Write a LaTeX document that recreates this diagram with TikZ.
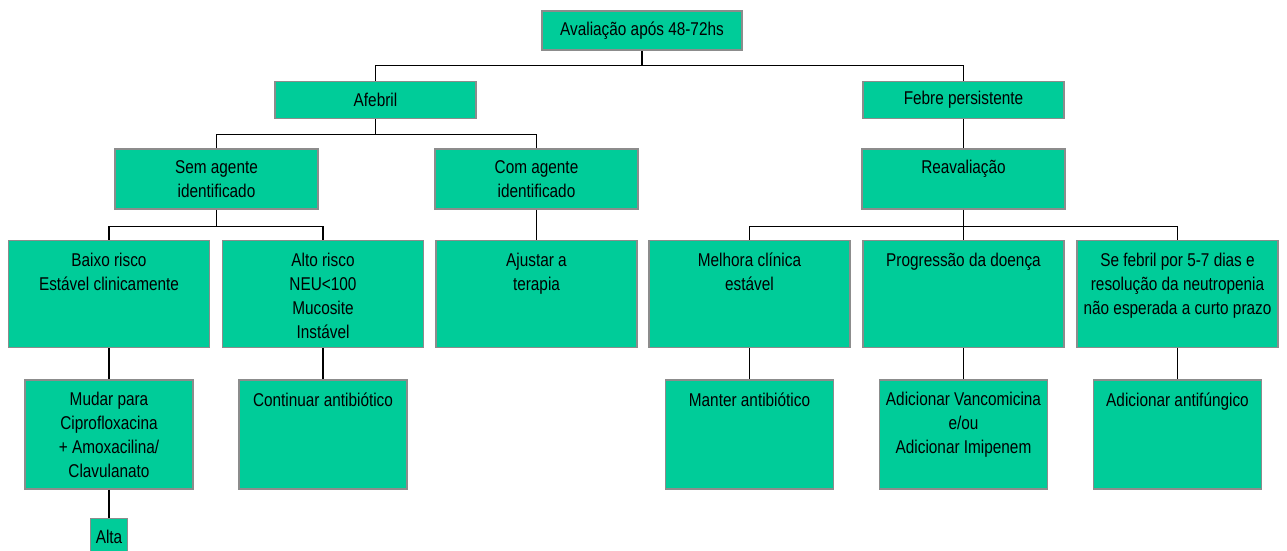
\documentclass[tikz,border=0pt]{standalone}
\usepackage{fontspec}
\setmainfont{Liberation Sans}[FakeStretch=0.83]
\usetikzlibrary{positioning}
\definecolor{boxgreen}{RGB}{0,204,153}
\definecolor{boxedge}{RGB}{140,140,140}

\begin{document}
\begin{tikzpicture}[font=\fontsize{18.5bp}{24bp}\selectfont]
 		\tikzstyle{box}=[rectangle, draw=boxedge, fill=boxgreen, line width=1.5bp, inner sep=0pt]
 		\tikzstyle{top}=[box, minimum width=200bp, minimum height=39bp]
 		\tikzstyle{first}=[box, minimum width=201bp, minimum height=37bp]
 		\tikzstyle{second}=[box, minimum width=203bp, minimum height=60bp]
 		\tikzstyle{third}=[box, minimum width=201bp, minimum height=107bp]
 		\tikzstyle{fourth}=[box, minimum width=168bp, minimum height=109bp]
 		\tikzstyle{connect}=[line width=1.2bp, black]
 		\tikzset{txt/.style={anchor=north, align=center, inner sep=0pt, yshift=#1}}
 		\useasboundingbox (-642bp,30.5bp) rectangle (645bp,-520.5bp);
 		\node[top] (aval) [label=center:Avaliação após 48-72hs] { };
 		\node[first] (afebril) [below=30bp of aval, xshift=-266.5bp, label=center:Afebril] { };
 		\node[first] (febre) [below=30bp of aval, xshift=321.5bp, label=center:Febre persistente] { };
 		\node[second] (sem) [below=29bp of afebril, xshift=-159bp, label={[txt=-12bp]north:Sem agente\\identificado}] { };
 		\node[second] (com) [below=29bp of afebril, xshift=161bp, label={[txt=-12bp]north:Com agente\\identificado}] { };
 		\node[second] (reav) [below=29bp of febre, label={[txt=-12bp]north:Reavaliação}] { };
 		\node[third] (baixo) [below=30bp of sem, xshift=-107.5bp, label={[txt=-13bp]north:Baixo risco\\Estável clinicamente}] { };
 		\node[third] (alto) [below=30bp of sem, xshift=106.5bp, label={[txt=-13bp]north:Alto risco\\NEU<100\\Mucosite\\Instável}] { };
 		\node[third] (ajustar) [below=30bp of com, label={[txt=-13bp]north:Ajustar a\\terapia}] { };
 		\node[third] (melhora) [below=30bp of reav, xshift=-214bp, label={[txt=-13bp]north:Melhora clínica\\estável}] { };
 		\node[third] (prog) [below=30bp of reav, label={[txt=-13bp]north:Progressão da doença}] { };
 		\node[third] (sefebril) [below=30bp of reav, xshift=214bp, label={[txt=-13bp]north:Se febril por 5-7 dias e\\resolução da neutropenia\\não esperada a curto prazo}] { };
 		\node[fourth] (mudar) [below=31bp of baixo, label={[txt=-13bp]north:Mudar para\\Ciprofloxacina\\+ Amoxacilina/\\Clavulanato}] { };
 		\node[fourth] (continuar) [below=31bp of alto, label={[txt=-13bp]north:Continuar antibiótico}] { };
 		\node[fourth] (manter) [below=31bp of melhora, label={[txt=-13bp]north:Manter antibiótico}] { };
 		\node[fourth] (vanco) [below=31bp of prog, label={[txt=-13bp]north:Adicionar Vancomicina\\e/ou\\Adicionar Imipenem}] { };
 		\node[fourth] (antif) [below=31bp of sefebril, label={[txt=-13bp]north:Adicionar antifúngico}] { };
 		\node[box, minimum width=37bp, minimum height=40bp] (alta) [below=28bp of mudar, label={[txt=-12bp]north:Alta}] { };
 		\coordinate (avalbus) at ([yshift=-15bp]aval.south);
 		\coordinate (afebrilbus) at ([yshift=-15bp]afebril.south);
 		\coordinate (sembus) at ([yshift=-17bp]sem.south);
 		\coordinate (reavbus) at ([yshift=-17bp]reav.south);
 		\draw[connect] (aval.south) -- (avalbus) -| (afebril.north)
 		(avalbus) -| (febre.north);
 		\draw[connect] (afebril.south) -- (afebrilbus) -| (sem.north)
 		(afebrilbus) -| (com.north);
 		\draw[connect] (sem.south) -- (sembus) -| (baixo.north)
 		(sembus) -| (alto.north);
 		\draw[connect] (reav.south) -- (reavbus) -| (melhora.north)
 		(reavbus) -| (prog.north)
 		(reavbus) -| (sefebril.north);
 		\path (febre) edge [connect] (reav)
 		(com) edge [connect] (ajustar)
 		(baixo) edge [connect] (mudar)
 		(alto) edge [connect] (continuar)
 		(melhora) edge [connect] (manter)
 		(prog) edge [connect] (vanco)
 		(sefebril) edge [connect] (antif)
 		(mudar) edge [connect] (alta);
 		\end{tikzpicture}
\end{document}
